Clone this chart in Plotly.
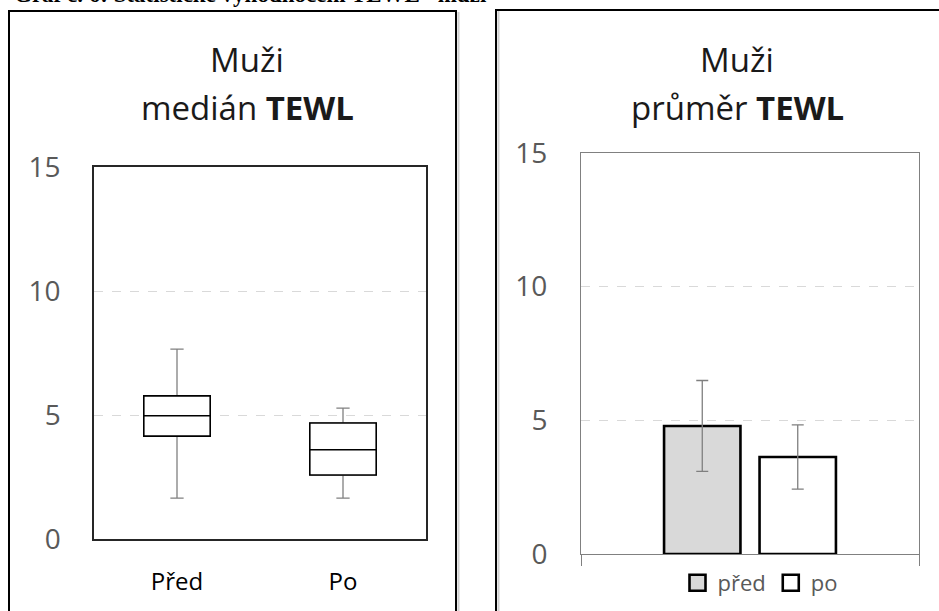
import plotly.graph_objects as go

# --- data -------------------------------------------------------------
box_categories = ["Před", "Po"]
box_lower = [1.65, 1.65]
box_q1 = [4.15, 2.58]
box_median = [4.97, 3.60]
box_q3 = [5.77, 4.68]
box_upper = [7.66, 5.28]

bar_category = ["TEWL"]
bar_names = ["před", "po"]
bar_means = [4.79, 3.63]
bar_errors = [1.70, 1.20]

y_ticks = [0, 5, 10, 15]

caption = "<b>Graf č. 6: Statistické vyhodnocení TEWL - muži</b>"
title_left = ["Muži", "medián <b>TEWL</b>"]
title_right = ["Muži", "průměr <b>TEWL</b>"]

# --- page geometry (pixels) ------------------------------------------
W, H = 939, 611
FONT = "Open Sans"


def px(x):
    return x / W


def py(y):
    return 1 - y / H


fig = go.Figure()

# whiskers (grey) drawn first, box body (black) overlaid on top
fig.add_trace(go.Box(
    x=box_categories, q1=box_q1, median=box_median, q3=box_q3,
    lowerfence=box_lower, upperfence=box_upper,
    width=0.4, whiskerwidth=0.2,
    line=dict(color="#808080", width=1.3), fillcolor="white",
    boxpoints=False, showlegend=False, hoverinfo="skip",
    xaxis="x", yaxis="y",
))
fig.add_trace(go.Box(
    x=box_categories, q1=box_q1, median=box_median, q3=box_q3,
    lowerfence=box_q1, upperfence=box_q3,
    width=0.4, whiskerwidth=0.0,
    line=dict(color="#000000", width=1.6), fillcolor="white",
    boxpoints=False, showlegend=False,
    xaxis="x", yaxis="y",
))

bar_fills = ["#d9d9d9", "#ffffff"]
for name, mean, err, fill in zip(bar_names, bar_means, bar_errors, bar_fills):
    fig.add_trace(go.Bar(
        x=bar_category, y=[mean], name=name, showlegend=False,
        marker=dict(color=fill, line=dict(color="#000000", width=2.6)),
        error_y=dict(type="data", array=[err], visible=True,
                     color="#7f7f7f", thickness=1.3, width=6),
        xaxis="x2", yaxis="y2",
    ))
    # legend key: square swatch in the bar's colours
    fig.add_trace(go.Scatter(
        x=[None], y=[None], name=name, mode="markers",
        marker=dict(symbol="square", size=16, color=fill,
                    line=dict(color="#000000", width=2.6)),
        xaxis="x2", yaxis="y2",
    ))

grid = dict(showgrid=True, gridcolor="#d9d9d9", griddash="dash", gridwidth=1)

fig.update_layout(
    width=W, height=H,
    margin=dict(l=0, r=0, t=0, b=0, autoexpand=False),
    paper_bgcolor="white", plot_bgcolor="white",
    font=dict(family=FONT),
    boxmode="overlay",
    barmode="group", bargap=0.435, bargroupgap=0.2,
    xaxis=dict(
        domain=[px(94), px(426)], anchor="y", automargin=False,
        type="category", range=[-0.5, 1.5],
        showline=True, mirror=True, linecolor="#262626", linewidth=1.5,
        showgrid=False, ticks="", ticklabelstandoff=20,
        tickfont=dict(size=24, color="#000000", family=FONT),
    ),
    yaxis=dict(
        domain=[py(539), py(167)], anchor="x", automargin=False,
        range=[0, 15], tickvals=y_ticks,
        showline=True, mirror=True, linecolor="#262626", linewidth=1.5,
        zeroline=False, ticks="", ticklabelstandoff=26,
        tickfont=dict(size=28, color="#595959", family=FONT),
        **grid,
    ),
    xaxis2=dict(
        domain=[px(581), px(919)], anchor="y2", automargin=False,
        showline=True, mirror=True, linecolor="#808080", linewidth=1.2,
        showgrid=False, showticklabels=False,
        tickson="boundaries", ticks="outside", ticklen=11,
        tickcolor="#808080", tickwidth=1.2,
    ),
    yaxis2=dict(
        domain=[py(554), py(153)], anchor="x2", automargin=False,
        range=[0, 15], tickvals=y_ticks,
        showline=True, mirror=True, linecolor="#808080", linewidth=1,
        zeroline=False, ticks="", ticklabelstandoff=27,
        tickfont=dict(size=28, color="#595959", family=FONT),
        **grid,
    ),
    legend=dict(
        orientation="h", x=px(760), xanchor="center",
        y=py(583), yanchor="middle",
        font=dict(size=22, color="#595959", family=FONT),
        bgcolor="rgba(0,0,0,0)", itemwidth=30,
    ),
)

# panel frames with a soft shadow
frame = dict(color="#000000", width=2)
shadow = dict(color="#cfcfcf", width=2)
fig.add_shape(type="line", xref="paper", yref="paper",
              x0=px(458.5), x1=px(458.5), y0=-0.05, y1=py(12), line=shadow)
fig.add_shape(type="line", xref="paper", yref="paper",
              x0=px(498.5), x1=px(498.5), y0=-0.05, y1=py(11), line=shadow)
fig.add_shape(type="rect", xref="paper", yref="paper",
              x0=px(9), x1=px(456), y0=-0.05, y1=py(11), line=frame)
fig.add_shape(type="rect", xref="paper", yref="paper",
              x0=px(496), x1=px(960), y0=-0.05, y1=py(10), line=frame)

# caption running off the top edge
fig.add_annotation(
    text=caption, xref="paper", yref="paper",
    x=px(12), y=py(9), xanchor="left", yanchor="bottom",
    showarrow=False,
    font=dict(family="Liberation Serif", size=23, color="#000000"),
)

# panel titles
title_font = dict(family=FONT, size=33, color="#1a1a1a")
for cx, lines in ((247, title_left), (737, title_right)):
    for cy, line in zip((60, 107), lines):
        fig.add_annotation(
            text=line, xref="paper", yref="paper",
            x=px(cx), y=py(cy), xanchor="center", yanchor="middle",
            showarrow=False, font=title_font,
        )

fig.write_html("out.html")
